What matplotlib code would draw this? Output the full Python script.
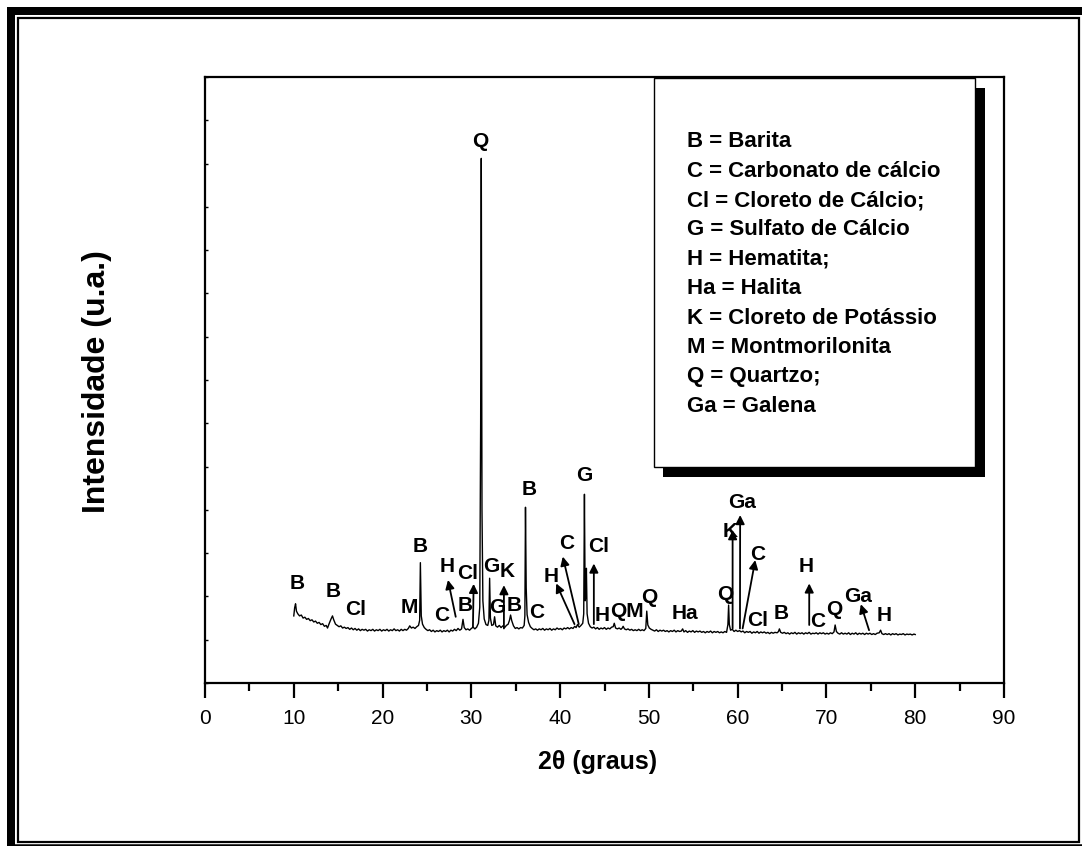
import matplotlib
matplotlib.use('Agg')
import matplotlib.pyplot as plt
from matplotlib.patches import Rectangle
from matplotlib.lines import Line2D

plt.rcParams['font.family'] = ['Liberation Sans', 'DejaVu Sans']

# diffractogram (2theta in degrees, intensity in arbitrary units)
two_theta = [
    10.00, 10.10, 10.20, 10.30, 10.45, 10.65, 10.85, 11.05, 11.25, 11.45, 11.65, 11.85,
    12.05, 12.25, 12.45, 12.65, 12.85, 13.05, 13.25, 13.45, 13.65, 13.80, 14.00, 14.20,
    14.36, 14.50, 14.70, 14.90, 15.10, 15.30, 15.50, 15.70, 15.90, 16.10, 16.30, 16.50,
    16.70, 16.90, 17.10, 17.30, 17.50, 17.70, 17.90, 18.10, 18.30, 18.50, 18.70, 18.90,
    19.10, 19.30, 19.50, 19.70, 19.90, 20.10, 20.30, 20.50, 20.70, 20.90, 21.10, 21.30,
    21.50, 21.70, 21.90, 22.10, 22.30, 22.50, 22.70, 22.90, 23.06, 23.25, 23.45, 23.65,
    23.85, 24.05, 24.18, 24.26, 24.36, 24.50, 24.70, 24.90, 25.10, 25.30, 25.50, 25.70,
    25.90, 26.10, 26.30, 26.50, 26.70, 26.90, 27.10, 27.30, 27.50, 27.70, 27.90, 28.10,
    28.30, 28.50, 28.70, 28.90, 29.06, 29.20, 29.40, 29.60, 29.80, 30.00, 30.20, 30.40,
    30.60, 30.80, 30.95, 31.05, 31.12, 31.20, 31.30, 31.45, 31.65, 31.85, 31.98, 32.06,
    32.15, 32.30, 32.50, 32.62, 32.75, 32.95, 33.15, 33.35, 33.55, 33.75, 33.95, 34.15,
    34.30, 34.42, 34.55, 34.75, 34.95, 35.15, 35.35, 35.55, 35.75, 35.95, 36.03, 36.10,
    36.18, 36.28, 36.45, 36.65, 36.85, 37.05, 37.25, 37.45, 37.65, 37.85, 38.05, 38.25,
    38.45, 38.65, 38.85, 39.05, 39.25, 39.45, 39.65, 39.85, 40.05, 40.25, 40.45, 40.65,
    40.85, 41.05, 41.25, 41.45, 41.65, 41.80, 41.96, 42.15, 42.35, 42.55, 42.66, 42.74,
    42.82, 42.90, 42.96, 43.04, 43.20, 43.40, 43.60, 43.80, 44.00, 44.20, 44.40, 44.60,
    44.80, 45.00, 45.20, 45.40, 45.60, 45.80, 45.98, 46.10, 46.25, 46.45, 46.65, 46.85,
    47.00, 47.10, 47.25, 47.45, 47.65, 47.85, 48.05, 48.25, 48.45, 48.65, 48.85, 49.05,
    49.25, 49.45, 49.65, 49.76, 49.88, 50.05, 50.25, 50.45, 50.65, 50.85, 51.05, 51.25,
    51.45, 51.65, 51.85, 52.05, 52.25, 52.45, 52.65, 52.85, 53.05, 53.25, 53.45, 53.65,
    53.80, 53.95, 54.15, 54.35, 54.55, 54.75, 54.95, 55.15, 55.35, 55.55, 55.75, 55.95,
    56.15, 56.35, 56.55, 56.75, 56.95, 57.15, 57.35, 57.55, 57.75, 57.95, 58.15, 58.35,
    58.55, 58.75, 58.90, 58.98, 59.06, 59.20, 59.40, 59.60, 59.80, 60.00, 60.20, 60.40,
    60.60, 60.80, 61.00, 61.20, 61.40, 61.60, 61.80, 62.00, 62.20, 62.40, 62.60, 62.80,
    63.00, 63.20, 63.40, 63.60, 63.80, 64.00, 64.20, 64.45, 64.60, 64.70, 64.85, 65.05,
    65.25, 65.45, 65.65, 65.85, 66.05, 66.25, 66.45, 66.65, 66.85, 67.05, 67.25, 67.45,
    67.65, 67.85, 68.05, 68.25, 68.45, 68.65, 68.85, 69.05, 69.25, 69.45, 69.65, 69.85,
    70.05, 70.25, 70.45, 70.65, 70.85, 70.98, 71.12, 71.30, 71.50, 71.70, 71.90, 72.10,
    72.30, 72.50, 72.70, 72.90, 73.10, 73.30, 73.50, 73.70, 73.90, 74.10, 74.30, 74.50,
    74.70, 74.90, 75.10, 75.30, 75.50, 75.70, 75.95, 76.10, 76.25, 76.45, 76.65, 76.85,
    77.05, 77.25, 77.45, 77.65, 77.85, 78.05, 78.25, 78.45, 78.65, 78.85, 79.05, 79.25,
    79.45, 79.65, 79.85, 80.00,
]
intensity = [
    1.55, 1.74, 1.83, 1.66, 1.60, 1.55, 1.57, 1.50, 1.52, 1.47, 1.49, 1.44,
    1.46, 1.41, 1.43, 1.38, 1.40, 1.35, 1.37, 1.31, 1.33, 1.27, 1.38, 1.48,
    1.55, 1.46, 1.36, 1.33, 1.30, 1.32, 1.27, 1.29, 1.26, 1.28, 1.24, 1.27,
    1.23, 1.26, 1.22, 1.25, 1.21, 1.24, 1.22, 1.24, 1.20, 1.23, 1.21, 1.24,
    1.20, 1.23, 1.21, 1.24, 1.20, 1.23, 1.21, 1.24, 1.20, 1.23, 1.21, 1.25,
    1.21, 1.23, 1.20, 1.24, 1.21, 1.24, 1.22, 1.26, 1.32, 1.27, 1.29, 1.26,
    1.30, 1.33, 1.45, 2.78, 1.55, 1.36, 1.28, 1.24, 1.21, 1.23, 1.19, 1.22,
    1.18, 1.21, 1.19, 1.22, 1.18, 1.21, 1.19, 1.22, 1.18, 1.22, 1.20, 1.24,
    1.21, 1.26, 1.22, 1.25, 1.47, 1.28, 1.23, 1.25, 1.22, 1.26, 1.29, 1.25,
    1.29, 1.38, 1.75, 6.00, 12.12, 4.00, 1.90, 1.48, 1.35, 1.33, 1.45, 2.42,
    1.50, 1.33, 1.35, 1.53, 1.32, 1.29, 1.33, 1.28, 1.32, 1.28, 1.33, 1.36,
    1.45, 1.57, 1.44, 1.32, 1.26, 1.28, 1.25, 1.28, 1.27, 1.33, 1.55, 4.06,
    2.20, 1.58, 1.40, 1.30, 1.26, 1.23, 1.25, 1.22, 1.25, 1.23, 1.26, 1.22,
    1.25, 1.23, 1.26, 1.22, 1.25, 1.23, 1.27, 1.24, 1.26, 1.23, 1.27, 1.25,
    1.28, 1.25, 1.28, 1.26, 1.31, 1.28, 1.35, 1.29, 1.33, 1.38, 1.60, 4.36,
    1.90, 2.00, 2.65, 1.60, 1.38, 1.30, 1.27, 1.29, 1.25, 1.28, 1.24, 1.27,
    1.25, 1.28, 1.24, 1.27, 1.25, 1.29, 1.30, 1.38, 1.27, 1.25, 1.27, 1.24,
    1.27, 1.31, 1.25, 1.23, 1.25, 1.22, 1.24, 1.21, 1.23, 1.21, 1.24, 1.21,
    1.23, 1.21, 1.26, 1.66, 1.34, 1.27, 1.24, 1.22, 1.20, 1.23, 1.19, 1.22,
    1.20, 1.22, 1.19, 1.21, 1.18, 1.21, 1.19, 1.22, 1.18, 1.21, 1.19, 1.20,
    1.25, 1.18, 1.21, 1.17, 1.20, 1.18, 1.21, 1.17, 1.20, 1.18, 1.20, 1.17,
    1.19, 1.16, 1.19, 1.17, 1.20, 1.16, 1.19, 1.17, 1.19, 1.16, 1.18, 1.16,
    1.19, 1.17, 1.35, 1.80, 1.35, 1.22, 1.24, 1.19, 1.22, 1.19, 1.21, 1.18,
    1.20, 1.16, 1.19, 1.17, 1.19, 1.15, 1.18, 1.16, 1.19, 1.15, 1.18, 1.16,
    1.18, 1.15, 1.17, 1.14, 1.17, 1.15, 1.17, 1.16, 1.19, 1.25, 1.17, 1.15,
    1.17, 1.14, 1.16, 1.13, 1.16, 1.14, 1.17, 1.13, 1.16, 1.14, 1.16, 1.13,
    1.16, 1.14, 1.17, 1.13, 1.15, 1.14, 1.16, 1.13, 1.16, 1.14, 1.16, 1.13,
    1.15, 1.13, 1.16, 1.14, 1.18, 1.34, 1.19, 1.15, 1.13, 1.16, 1.13, 1.15,
    1.13, 1.16, 1.12, 1.15, 1.13, 1.16, 1.12, 1.15, 1.13, 1.15, 1.12, 1.15,
    1.13, 1.15, 1.12, 1.14, 1.12, 1.15, 1.16, 1.22, 1.14, 1.12, 1.14, 1.12,
    1.14, 1.11, 1.14, 1.12, 1.14, 1.11, 1.13, 1.12, 1.14, 1.11, 1.13, 1.12,
    1.13, 1.11, 1.13, 1.12,
]

# phase letters placed without arrows: (text, 2theta, intensity)
peak_labels = [
    ('B', 10.4, 2.30), ('B', 14.4, 2.11), ('Cl', 17.0, 1.69), ('M', 23.06, 1.74),
    ('B', 24.19, 3.15), ('C', 26.7, 1.55), ('B', 29.3, 1.78), ('Q', 31.0, 12.52),
    ('G', 32.25, 2.70), ('G', 32.9, 1.75), ('B', 34.8, 1.80), ('B', 36.5, 4.48),
    ('C', 37.4, 1.62), ('G', 42.75, 4.80), ('H', 44.7, 1.55), ('QM', 47.5, 1.65),
    ('Q', 50.0, 1.97), ('Ha', 54.1, 1.61), ('Q', 58.6, 2.05), ('Cl', 62.25, 1.45),
    ('B', 64.87, 1.61), ('C', 69.0, 1.43), ('Q', 70.87, 1.69), ('H', 76.5, 1.55),
]

# phase letters with arrows: (text, label x, label y, tail x, tail y, head x, head y)
arrow_labels = [
    ('H', 27.26, 2.68, 28.24, 1.53, 27.37, 2.38),
    ('Cl', 29.6, 2.53, 30.18, 1.30, 30.26, 2.29),
    ('K', 34.05, 2.57, 33.67, 1.26, 33.67, 2.26),
    ('H', 39.0, 2.45, 41.62, 1.36, 39.56, 2.30),
    ('C', 40.7, 3.23, 42.1, 1.36, 40.3, 2.92),
    ('Cl', 44.3, 3.16, 43.8, 1.36, 43.8, 2.76),
    ('K', 59.2, 3.51, 59.43, 1.26, 59.43, 3.53),
    ('Ga', 60.48, 4.16, 60.26, 1.26, 60.28, 3.88),
    ('C', 62.24, 2.96, 60.56, 1.26, 61.98, 2.84),
    ('H', 67.75, 2.70, 68.06, 1.34, 68.06, 2.30),
    ('Ga', 73.6, 2.00, 74.8, 1.22, 73.87, 1.82),
]

legend_lines = [
    'B = Barita',
    'C = Carbonato de cálcio',
    'Cl = Cloreto de Cálcio;',
    'G = Sulfato de Cálcio',
    'H = Hematita;',
    'Ha = Halita',
    'K = Cloreto de Potássio',
    'M = Montmorilonita',
    'Q = Quartzo;',
    'Ga = Galena',
]

W, H = 1082, 846


def fx(px):
    return px / W


def fy(py):
    return 1 - py / H


fig = plt.figure(figsize=(W / 100, H / 100), dpi=100)
fig.patch.set_facecolor('white')

# page frame: heavy bars top/left, thin box inside
fig.add_artist(Rectangle((fx(7), fy(15)), fx(1082) - fx(7), fy(7) - fy(15),
                         transform=fig.transFigure, color='black', lw=0))
fig.add_artist(Rectangle((fx(7), fy(846)), fx(15) - fx(7), fy(7) - fy(846),
                         transform=fig.transFigure, color='black', lw=0))
fig.add_artist(Rectangle((fx(18), fy(841.5)), fx(1078.5) - fx(18), fy(18) - fy(841.5),
                         transform=fig.transFigure, fill=False, ec='black', lw=1.6))
fig.add_artist(Line2D([fx(15), fx(1081)], [fy(845), fy(845)],
                      transform=fig.transFigure, color='black', lw=1.8))

ax = fig.add_axes([fx(205), fy(683), fx(1004) - fx(205), fy(77) - fy(683)])
ax.plot(two_theta, intensity, color='black', lw=1.0)

ax.set_xlim(0, 90)
ax.set_ylim(0, 14)
ax.set_xticks(range(0, 91, 10))
ax.set_xticks(range(5, 90, 10), minor=True)
ax.set_yticks(range(0, 15))
ax.set_yticklabels([])
ax.tick_params(axis='x', which='major', direction='out', length=11, width=1.6,
               pad=8, labelsize=15)
ax.tick_params(axis='x', which='minor', direction='out', length=6, width=1.6)
ax.tick_params(axis='y', which='major', direction='in', length=2.5, width=1.0)
for sp in ax.spines.values():
    sp.set_linewidth(1.6)

fig.text(fx(598), fy(762), '2θ (graus)', fontsize=18, fontweight='bold',
         ha='center', va='center')
fig.text(fx(97), fy(382), 'Intensidade (u.a.)', rotation=90, fontsize=23,
         fontweight='bold', ha='center', va='center')

for txt, x, y in peak_labels:
    ax.text(x, y, txt, fontsize=15, fontweight='bold', ha='center', va='center')

for txt, lx, ly, tx, ty, hx, hy in arrow_labels:
    ax.annotate('', xy=(hx, hy), xytext=(tx, ty),
                arrowprops=dict(arrowstyle='-|>', color='black', lw=1.3,
                                mutation_scale=13, shrinkA=0, shrinkB=0))
    ax.text(lx, ly, txt, fontsize=15, fontweight='bold', ha='center', va='center')

# legend box with drop shadow
fig.add_artist(Rectangle((fx(663), fy(477)), fx(985) - fx(663), fy(88) - fy(477),
                         transform=fig.transFigure, color='black', lw=0, zorder=5))
fig.add_artist(Rectangle((fx(654), fy(467)), fx(975) - fx(654), fy(78) - fy(467),
                         transform=fig.transFigure, fc='white', ec='black', lw=1.0,
                         zorder=6))
for i, line in enumerate(legend_lines):
    fig.text(fx(687), fy(141.7 + i * 29.4), line, fontsize=16, fontweight='bold',
             ha='left', va='center', zorder=7)

fig.savefig('out.png', dpi=100)
